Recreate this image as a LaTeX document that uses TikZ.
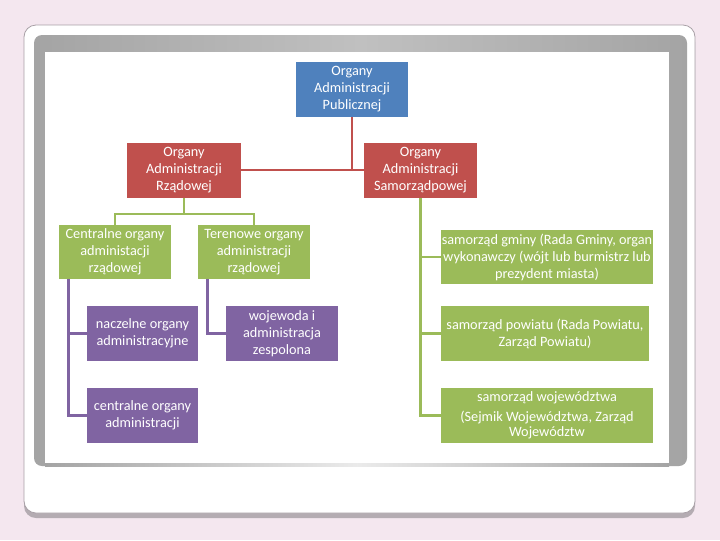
\documentclass[tikz,border=0pt]{standalone}
\usepackage{fontspec}
\setmainfont{Carlito}
\definecolor{bgpink}{HTML}{F4E7EF}
\definecolor{cblue}{HTML}{4F81BD}
\definecolor{cred}{HTML}{C0504D}
\definecolor{cgreen}{HTML}{9BBB59}
\definecolor{cpurple}{HTML}{8064A2}
\definecolor{framedark}{HTML}{A4A4A4}
\definecolor{framelight}{HTML}{C0C0C0}
\definecolor{cardline}{HTML}{A8A0A6}
\definecolor{cardshadow}{HTML}{B4ACB2}
\tikzset{
  box/.style={inner sep=0pt, minimum width=84pt, minimum height=41.25pt,
    align=center, text=white, font=\fontsize{10.7}{12.75}\selectfont},
  widebox/.style={box, minimum width=159pt},
  conn/.style={line width=2.1pt},
}
\begin{document}
\begin{tikzpicture}[x=0.75pt,y=-0.75pt]
\useasboundingbox (0,0) rectangle (720,540);
% background
\fill[bgpink] (0,0) rectangle (720,540);
% card with shadow
\fill[cardshadow, rounded corners=9pt] (24,30) rectangle (695,518);
\filldraw[fill=white, draw=cardline, line width=0.6pt, rounded corners=9pt] (24,25) rectangle (695,513);
% gray frame
\shade[rounded corners=6pt, left color=framedark, right color=framedark, middle color=framelight] (34,35) rectangle (687,466);
\shade[left color=framedark, right color=framedark, middle color=white!92!black] (45,458) rectangle (669,466);
\fill[white] (45,52) rectangle (669,463);
% nodes
\node[box, fill=cblue] (pub) at (352,89.5) {Organy\\Administracji\\Publicznej};
\node[box, fill=cred, minimum width=85.5pt] (rzad) at (184,170) {Organy\\Administracji\\Rządowej};
\node[box, fill=cred, minimum width=85pt] (samo) at (420.5,170) {Organy\\Administracji\\Samorządpowej};
\node[box, fill=cgreen, minimum height=40.5pt] (cen) at (115,252) {Centralne organy\\administacji\\rządowej};
\node[box, fill=cgreen, minimum height=40.5pt] (ter) at (254,252) {Terenowe organy\\administracji\\rządowej};
\node[box, fill=cpurple, minimum width=83.25pt] (nacz) at (142.5,333.5) {naczelne organy\\administracyjne};
\node[box, fill=cpurple] (woj) at (282,333.5) {wojewoda i\\administracja\\zespolona};
\node[box, fill=cpurple, minimum width=83.25pt] (cent) at (142.5,415.5) {centralne organy\\administracji};
\node[widebox, fill=cgreen, minimum height=40.5pt] (g1) at (547,257) {samorząd gminy (Rada Gminy, organ\\wykonawczy (wójt lub burmistrz lub\\prezydent miasta)};
\node[widebox, fill=cgreen, minimum width=156pt] (g2) at (545,333.5) {samorząd powiatu  (Rada Powiatu,\\Zarząd Powiatu)};
\node[widebox, fill=cgreen] (g3) at (547,415.5) {samorząd województwa\\[2.5pt](Sejmik Województwa,  Zarząd\\[-1.5pt]Województw};
% red connectors
\draw[conn, cred] (rzad.east) -- (samo.west);
\draw[conn, cred] (pub.south) -- (pub.south |- rzad.east);
% green left connectors
\coordinate (gj) at (184,214);
\draw[conn, cgreen] (rzad.south) -- (gj);
\draw[conn, cgreen] (cen.north) -- (cen.north |- gj) -- (ter.north |- gj) -- (ter.north);
% purple connectors
\coordinate (p1) at ([xshift=7.5pt]cen.south west);
\coordinate (p2) at ([xshift=7.5pt]ter.south west);
\draw[conn, cpurple] (p1) |- (nacz.west);
\draw[conn, cpurple] (p1) |- (cent.west);
\draw[conn, cpurple] (p2) |- (woj.west);
% green right connectors
\draw[conn, cgreen] (samo.south) |- (g1.west);
\draw[conn, cgreen] (samo.south) |- (g2.west);
\draw[conn, cgreen] (samo.south) |- (g3.west);
\end{tikzpicture}
\end{document}
